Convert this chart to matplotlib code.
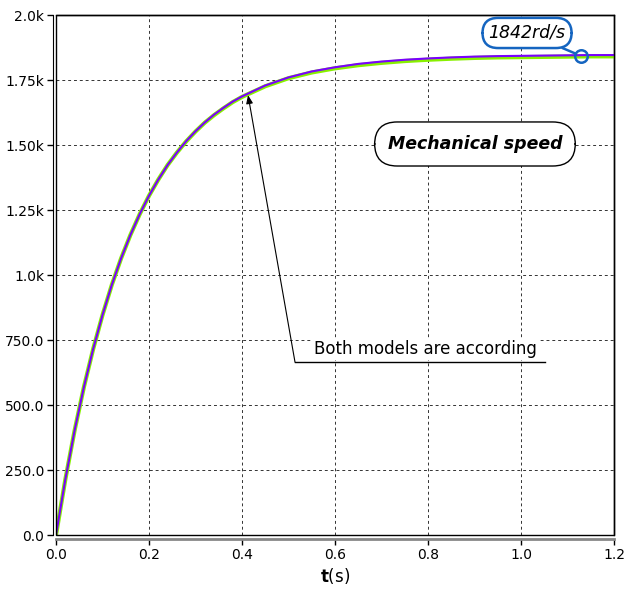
import matplotlib
matplotlib.use("Agg")
import matplotlib.pyplot as plt
from matplotlib.patches import Rectangle
from matplotlib.ticker import FixedLocator

t_values = [0.0, 0.02, 0.04, 0.06, 0.08, 0.10, 0.12, 0.14, 0.16, 0.18, 0.20,
            0.22, 0.24, 0.26, 0.28, 0.30, 0.32, 0.34, 0.36, 0.38, 0.40,
            0.45, 0.50, 0.55, 0.60, 0.65, 0.70, 0.75, 0.80, 0.85, 0.90,
            0.95, 1.00, 1.05, 1.10, 1.15, 1.20]
speed_model_a = [0, 213, 402, 569, 716, 846, 962, 1064, 1154, 1234, 1305,
                 1367, 1423, 1471, 1515, 1553, 1587, 1617, 1643, 1667, 1687,
                 1729, 1760, 1783, 1799, 1812, 1821, 1828, 1833, 1837, 1840,
                 1842, 1843, 1844, 1845, 1846, 1846]
speed_model_b = [0, 213, 402, 569, 716, 846, 962, 1064, 1154, 1234, 1305,
                 1367, 1423, 1471, 1514, 1552, 1586, 1615, 1641, 1665, 1685,
                 1726, 1757, 1779, 1795, 1807, 1816, 1823, 1828, 1832, 1835,
                 1837, 1838, 1839, 1840, 1841, 1841]

x_ticks = [0.0, 0.2, 0.4, 0.6, 0.8, 1.0, 1.2]
x_tick_labels = ["0.0", "0.2", "0.4", "0.6", "0.8", "1.0", "1.2"]
y_ticks = [0, 250, 500, 750, 1000, 1250, 1500, 1750, 2000]
y_tick_labels = ["0.0", "250.0", "500.0", "750.0", "1.0k", "1.25k", "1.50k", "1.75k", "2.0k"]

marker_t = [1.13]
marker_speed = [1842]

plt.rcParams['font.family'] = ['DejaVu Sans']

fig = plt.figure(figsize=(6.25, 5.94), dpi=100)
ax = fig.add_axes([0.0896, 0.0993, 0.8928, 0.8754])

ax.plot(t_values, speed_model_b, color='#88f000', lw=3.0, zorder=3)
ax.plot(t_values, speed_model_a, color='#7a00ff', lw=1.5, zorder=4)

ax.set_xlim(0, 1.2)
ax.set_ylim(0, 2000)
ax.xaxis.set_major_locator(FixedLocator(x_ticks))
ax.set_xticklabels(x_tick_labels)
ax.yaxis.set_major_locator(FixedLocator(y_ticks))
ax.set_yticklabels(y_tick_labels)
ax.tick_params(axis='both', labelsize=10, length=4, width=1, direction='out', pad=2)

ax.grid(True, color='#333333', linestyle=(0, (3, 3)), linewidth=0.7)
ax.set_axisbelow(True)

# double frame look
for s in ['top', 'right']:
    ax.spines[s].set_linewidth(1.0)
ax.spines['left'].set_position(('outward', 2.5))
ax.spines['bottom'].set_position(('outward', 3))
ax.spines['bottom'].set_color('#888888')
ax.spines['bottom'].set_linewidth(2)
ax.add_patch(Rectangle((0, 0), 1, 1, transform=ax.transAxes, fill=False,
                       edgecolor='black', lw=1.0, clip_on=False, zorder=5))

ax.set_xlabel(r"$\mathbf{t}$(s)", fontsize=12, labelpad=3)

# annotation: final value
ax.plot(marker_t, marker_speed, 'o', mfc='none', mec='#1565c0', mew=1.8, ms=9, zorder=6)
ax.annotate("1842rd/s", xy=(marker_t[0], marker_speed[0]), xytext=(1.013, 1931),
            ha='center', va='center', fontsize=12.5, style='italic',
            bbox=dict(boxstyle='round,pad=0.35,rounding_size=0.9', fc='white', ec='#1565c0', lw=1.8),
            arrowprops=dict(arrowstyle='-', color='#1565c0', lw=1.8, shrinkA=0, shrinkB=4.5),
            zorder=7)

# title box
ax.text(0.901, 1504, "Mechanical speed", ha='center', va='center', fontsize=12.5,
        style='italic', weight='bold',
        bbox=dict(boxstyle='round,pad=0.75,rounding_size=1.3', fc='white', ec='black', lw=1.0),
        zorder=7)

# arrow with underlined label
ax.annotate("", xy=(0.413, 1692), xytext=(0.514, 665),
            arrowprops=dict(arrowstyle='-|>,head_length=0.5,head_width=0.2', color='black', lw=0.8,
                            mutation_scale=10, shrinkA=0, shrinkB=0), zorder=7)
ax.plot([0.514, 1.052], [665, 665], color='black', lw=1.0, zorder=7)
ax.text(0.555, 715, "Both models are according", ha='left', va='center', fontsize=12,
        bbox=dict(boxstyle='square,pad=0.1', fc='white', ec='none'), zorder=7)

fig.savefig("out.png", dpi=100)
